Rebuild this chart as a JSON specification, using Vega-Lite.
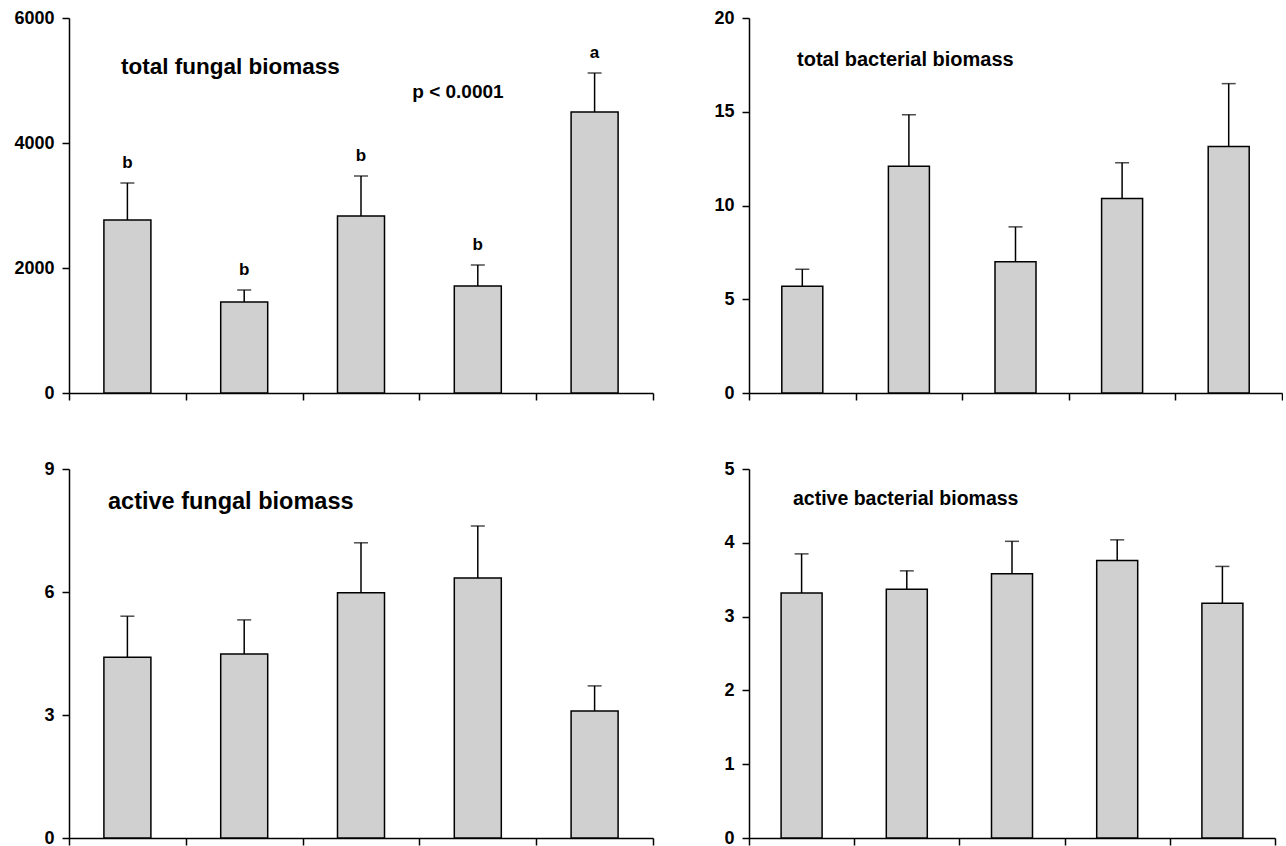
{
  "$schema": "https://vega.github.io/schema/vega-lite/v6.json",
  "autosize": {"type": "pad"},
  "padding": {"left": 13, "top": 9, "right": 0, "bottom": 0},
  "background": "white",
  "datasets": {
    "tf": [
      {"group": 1, "mean": 2768, "upper": 3360, "letter": "b"},
      {"group": 2, "mean": 1456, "upper": 1648, "letter": "b"},
      {"group": 3, "mean": 2832, "upper": 3472, "letter": "b"},
      {"group": 4, "mean": 1712, "upper": 2048, "letter": "b"},
      {"group": 5, "mean": 4496, "upper": 5120, "letter": "a"}
    ],
    "tb": [
      {"group": 1, "mean": 5.7, "upper": 6.6},
      {"group": 2, "mean": 12.1, "upper": 14.84},
      {"group": 3, "mean": 7.0, "upper": 8.86},
      {"group": 4, "mean": 10.38, "upper": 12.28},
      {"group": 5, "mean": 13.15, "upper": 16.5}
    ],
    "af": [
      {"group": 1, "mean": 4.41, "upper": 5.41},
      {"group": 2, "mean": 4.49, "upper": 5.32},
      {"group": 3, "mean": 5.98, "upper": 7.2},
      {"group": 4, "mean": 6.34, "upper": 7.61},
      {"group": 5, "mean": 3.1, "upper": 3.71}
    ],
    "ab": [
      {"group": 1, "mean": 3.32, "upper": 3.85},
      {"group": 2, "mean": 3.37, "upper": 3.62},
      {"group": 3, "mean": 3.58, "upper": 4.02},
      {"group": 4, "mean": 3.76, "upper": 4.04},
      {"group": 5, "mean": 3.18, "upper": 3.68}
    ]
  },
  "config": {
    "view": {"stroke": null},
    "font": "Liberation Sans",
    "scale": {"continuousPadding": 0},
    "axis": {
      "domainColor": "black", "domainWidth": 1.5,
      "tickColor": "black", "tickWidth": 1.5, "tickSize": 7,
      "labelFont": "Liberation Sans", "labelFontWeight": "bold", "labelFontSize": 18,
      "labelColor": "black", "labelPadding": 8, "grid": false, "title": null, "format": "d"
    },
    "title": {"font": "Liberation Sans", "fontWeight": "bold", "color": "black", "anchor": "start", "frame": "group", "orient": "top", "offset": 0, "baseline": "middle"}
  },
  "columns": 2,
  "spacing": {"column": 59, "row": 58},
  "concat": [
    {
      "width": 584, "height": 375,
      "title": {"text": "total fungal biomass", "fontSize": 22.5, "dx": 52, "dy": 73},
      "layer": [
        {
          "data": {"name": "tf"},
          "encoding": {
            "x": {"field": "group", "type": "quantitative", "scale": {"domain": [0.5, 5.5], "padding": 0}, "axis": {"values": [0.5, 1.5, 2.5, 3.5, 4.5, 5.5], "labels": false}},
            "y": {"field": "mean", "type": "quantitative", "scale": {"domain": [0, 6000]}, "axis": {"values": [0, 2000, 4000, 6000]}}
          },
          "layer": [
            {"mark": {"type": "bar", "width": 47, "fill": "#d0d0d0", "stroke": "black", "strokeWidth": 1.5}},
            {"mark": {"type": "rule", "color": "black", "strokeWidth": 1.5}, "encoding": {"y2": {"field": "upper"}}},
            {"mark": {"type": "tick", "orient": "horizontal", "size": 14, "thickness": 1.5, "color": "black"}, "encoding": {"y": {"field": "upper", "type": "quantitative"}}},
            {"mark": {"type": "text", "fontSize": 17, "fontWeight": "bold", "baseline": "bottom", "dy": -11, "color": "black"}, "encoding": {"y": {"field": "upper", "type": "quantitative"}, "text": {"field": "letter"}}}
          ]
        },
        {
          "data": {"values": [{"label": "p < 0.0001", "gx": 3.83, "gy": 4816}]},
          "mark": {"type": "text", "fontSize": 19, "fontWeight": "bold", "baseline": "middle", "align": "center", "color": "black"},
          "encoding": {
            "x": {"field": "gx", "type": "quantitative", "scale": {"domain": [0.5, 5.5], "padding": 0}},
            "y": {"field": "gy", "type": "quantitative", "scale": {"domain": [0, 6000]}},
            "text": {"field": "label"}
          }
        }
      ]
    },
    {
      "width": 533, "height": 375,
      "data": {"name": "tb"},
      "title": {"text": "total bacterial biomass", "fontSize": 20, "dx": 48, "dy": 65},
      "encoding": {
        "x": {"field": "group", "type": "quantitative", "scale": {"domain": [0.5, 5.5], "padding": 0}, "axis": {"values": [0.5, 1.5, 2.5, 3.5, 4.5, 5.5], "labels": false}},
        "y": {"field": "mean", "type": "quantitative", "scale": {"domain": [0, 20]}, "axis": {"values": [0, 5, 10, 15, 20]}}
      },
      "layer": [
        {"mark": {"type": "bar", "width": 41, "fill": "#d0d0d0", "stroke": "black", "strokeWidth": 1.5}},
        {"mark": {"type": "rule", "color": "black", "strokeWidth": 1.5}, "encoding": {"y2": {"field": "upper"}}},
        {"mark": {"type": "tick", "orient": "horizontal", "size": 14, "thickness": 1.5, "color": "black"}, "encoding": {"y": {"field": "upper", "type": "quantitative"}}}
      ]
    },
    {
      "width": 584, "height": 369,
      "data": {"name": "af"},
      "title": {"text": "active fungal biomass", "fontSize": 23.5, "dx": 39, "dy": 57},
      "encoding": {
        "x": {"field": "group", "type": "quantitative", "scale": {"domain": [0.5, 5.5], "padding": 0}, "axis": {"values": [0.5, 1.5, 2.5, 3.5, 4.5, 5.5], "labels": false}},
        "y": {"field": "mean", "type": "quantitative", "scale": {"domain": [0, 9]}, "axis": {"values": [0, 3, 6, 9]}}
      },
      "layer": [
        {"mark": {"type": "bar", "width": 47, "fill": "#d0d0d0", "stroke": "black", "strokeWidth": 1.5}},
        {"mark": {"type": "rule", "color": "black", "strokeWidth": 1.5}, "encoding": {"y2": {"field": "upper"}}},
        {"mark": {"type": "tick", "orient": "horizontal", "size": 14, "thickness": 1.5, "color": "black"}, "encoding": {"y": {"field": "upper", "type": "quantitative"}}}
      ]
    },
    {
      "width": 526, "height": 369,
      "data": {"name": "ab"},
      "title": {"text": "active bacterial biomass", "fontSize": 19.5, "dx": 44, "dy": 53},
      "encoding": {
        "x": {"field": "group", "type": "quantitative", "scale": {"domain": [0.5, 5.5], "padding": 0}, "axis": {"values": [0.5, 1.5, 2.5, 3.5, 4.5, 5.5], "labels": false}},
        "y": {"field": "mean", "type": "quantitative", "scale": {"domain": [0, 5]}, "axis": {"values": [0, 1, 2, 3, 4, 5]}}
      },
      "layer": [
        {"mark": {"type": "bar", "width": 41, "fill": "#d0d0d0", "stroke": "black", "strokeWidth": 1.5}},
        {"mark": {"type": "rule", "color": "black", "strokeWidth": 1.5}, "encoding": {"y2": {"field": "upper"}}},
        {"mark": {"type": "tick", "orient": "horizontal", "size": 14, "thickness": 1.5, "color": "black"}, "encoding": {"y": {"field": "upper", "type": "quantitative"}}}
      ]
    }
  ]
}
